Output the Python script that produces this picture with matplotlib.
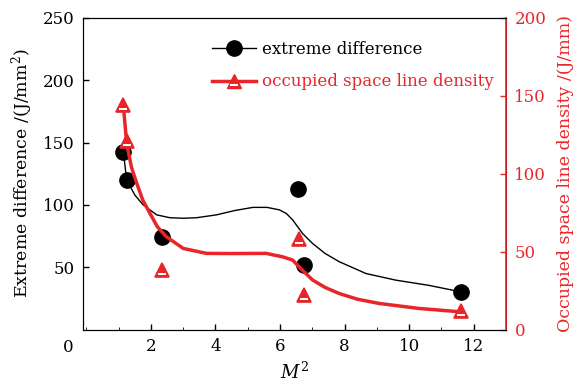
import matplotlib
matplotlib.use("Agg")
import matplotlib.pyplot as plt
from matplotlib.ticker import MultipleLocator
from matplotlib.path import Path
from matplotlib.legend_handler import HandlerTuple

plt.rcParams['font.family'] = ['DejaVu Serif']
plt.rcParams['mathtext.fontset'] = 'dejavuserif'

# measured points
ext_x = [1.15, 1.25, 2.35, 6.55, 6.75, 11.6]
ext_y = [142, 120, 74, 113, 52, 30]
dens_x = [1.15, 1.25, 2.35, 6.6, 6.75, 11.6]
dens_y = [144, 121, 38, 58, 22, 12]

# fitted curves
ext_fit_x = [1.15, 1.25, 1.5, 1.76, 2.18, 2.59, 3.0, 3.41, 4.03, 4.6, 5.16, 5.6, 5.98,
             6.2, 6.39, 6.7, 7.01, 7.4, 7.83, 8.66, 9.58, 10.61, 11.6]
ext_fit_y = [142, 120, 108, 100, 92, 89.7, 89.3, 89.7, 92, 95.5, 98, 98, 96,
             93, 88, 77, 69, 61, 54.5, 45, 39.7, 35.5, 30.3]
dens_fit_x = [1.15, 1.25, 1.4, 1.56, 1.75, 1.97, 2.2, 2.48, 3.0, 3.72, 4.5, 5.57, 6.08,
              6.39, 6.7, 7.01, 7.4, 7.83, 8.4, 9.07, 10.3, 11.6]
dens_fit_y = [143, 119.5, 104, 94, 83, 74.6, 66, 59.6, 52.1, 48.9, 48.8, 48.9, 46.7,
              44.6, 38, 31.8, 27, 23.2, 19.5, 16.8, 13.6, 11.4]

red = '#e8262a'

# white stripe inside the triangle markers (MOVETO at (0,1) keeps the scale same as '^')
stripe = Path([(0, 1), (-0.55, -0.5), (0.55, -0.5), (0.55, -0.72), (-0.55, -0.72), (0, 0)],
              [Path.MOVETO, Path.MOVETO, Path.LINETO, Path.LINETO, Path.LINETO, Path.CLOSEPOLY])

fig = plt.figure(figsize=(5.81, 3.86), dpi=100)
ax = fig.add_axes([0.143, 0.146, 0.728, 0.808])
ax2 = ax.twinx()

ax.plot(ext_fit_x, ext_fit_y, color='black', lw=1.0)
ax.plot(ext_x, ext_y, 'o', color='black', ms=11, zorder=3)
ax2.plot(dens_fit_x, dens_fit_y, color=red, lw=2.5)
ax2.plot(dens_x, dens_y, '^', color=red, ms=10, mec=red, mew=1.2, zorder=3)
ax2.plot(dens_x, dens_y, ls='none', marker=stripe, color='white', ms=10, mew=0, zorder=4)

ax.set_xlim(-0.1, 13)
ax.set_ylim(0, 250)
ax2.set_ylim(0, 200)
ax.set_xticks([2, 4, 6, 8, 10, 12])
ax.xaxis.set_minor_locator(MultipleLocator(1))
ax.set_yticks([50, 100, 150, 200, 250])
ax2.set_yticks([0, 50, 100, 150, 200])

ax.tick_params(direction='in', labelsize=12, length=4, width=1, pad=6)
ax.tick_params(which='minor', direction='in', length=2)
ax.tick_params(axis='y', which='both', right=False)
ax2.tick_params(direction='in', labelsize=12, length=4, width=1, colors=red, pad=6)
ax2.spines['right'].set_color(red)
ax2.spines['right'].set_linewidth(1.2)

ax.text(-0.55, -14, '0', fontsize=12, ha='center', va='center')

ax.set_xlabel('$M^2$', fontsize=13, labelpad=5)
ax.set_ylabel('Extreme difference /(J/mm$^2$)', fontsize=12.5, labelpad=6)
ax2.set_ylabel('Occupied space line density /(J/mm)', fontsize=12.5, color=red, labelpad=8)

h1 = matplotlib.lines.Line2D([], [], color='black', lw=1.0, marker='o', ms=11)
h2a = matplotlib.lines.Line2D([], [], color=red, lw=2.5, marker='^', ms=10, mec=red)
h2b = matplotlib.lines.Line2D([], [], ls='none', marker=stripe, color='white', ms=10, mew=0)
leg = ax.legend([h1, (h2a, h2b)], ['extreme difference', 'occupied space line density'],
                handler_map={tuple: HandlerTuple(ndivide=1)},
                loc='upper left', bbox_to_anchor=(0.27, 0.975), frameon=False,
                fontsize=12, handlelength=2.6, handletextpad=0.4, labelspacing=0.95)
leg.get_texts()[1].set_color(red)

fig.savefig('out.png', dpi=100)
